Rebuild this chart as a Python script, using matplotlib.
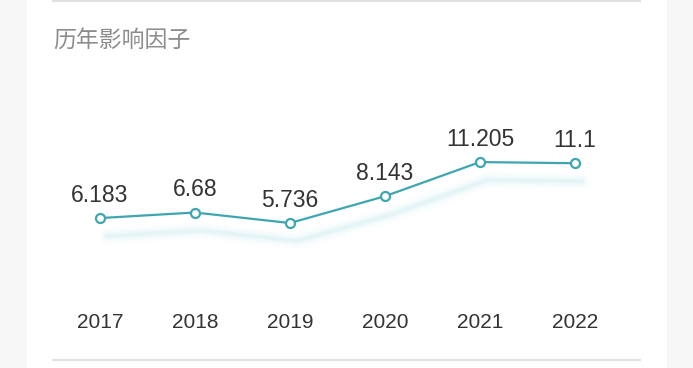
import matplotlib
matplotlib.use("Agg")
import matplotlib.pyplot as plt
import matplotlib.transforms as mtransforms
from matplotlib.patches import Rectangle
from matplotlib.lines import Line2D

plt.rcParams['font.family'] = ['Liberation Sans', 'Noto Sans CJK SC', 'DejaVu Sans']

# data
years = ["2017", "2018", "2019", "2020", "2021", "2022"]
impact = [6.183, 6.68, 5.736, 8.143, 11.205, 11.1]
labels = ["6.183", "6.68", "5.736", "8.143", "11.205", "11.1"]
title = "历年影响因子"

line_color = "#3fa6b0"
W, H = 693, 368

fig = plt.figure(figsize=(W / 100, H / 100), dpi=100)
fig.patch.set_facecolor("#f7f7f7")

# white card + separator lines (behind the axes)
fig.patches.append(Rectangle((27 / W, 0), 640 / W, 1, transform=fig.transFigure,
                             facecolor="white", edgecolor="none", zorder=-2))
fig.lines.append(Line2D([53 / W, 640 / W], [1 - 1 / H, 1 - 1 / H], transform=fig.transFigure,
                        color="#e2e2e2", lw=1.5, zorder=-1))
fig.lines.append(Line2D([53 / W, 640 / W], [1 - 360 / H, 1 - 360 / H], transform=fig.transFigure,
                        color="#e2e2e2", lw=1.5, zorder=-1))

fig.text(53 / W, 1 - 41 / H, title, fontsize=16.5, color="#8c8c8c", fontweight="light",
         family=['Noto Sans CJK SC', 'DejaVu Sans'], va="center", ha="left")

ax = fig.add_axes([0, 0, 1, 1])
ax.set_facecolor("none")
ax.set_xlim(-100 / 95, (W - 100) / 95)
ax.set_ylim(-81 / 11.15, (H - 81) / 11.15)
ax.axis("off")

x = list(range(len(years)))

# soft shadow below the line
for lw, a in [(12, 0.03), (8, 0.05), (5, 0.08), (2.5, 0.12)]:
    shadow = mtransforms.offset_copy(ax.transData, fig=fig, x=7, y=-18, units="dots")
    ax.plot(x, impact, color="#9fdbe4", lw=lw, alpha=a, transform=shadow,
            solid_capstyle="round", zorder=1)

ax.plot(x, impact, color=line_color, lw=1.6, marker="o", markersize=6.5,
        markerfacecolor="white", markeredgecolor=line_color, markeredgewidth=1.6, zorder=3)

for xi, v, lab in zip(x, impact, labels):
    ax.annotate(lab, (xi, v), xytext=(0, 8), textcoords="offset points",
                ha="center", va="bottom", fontsize=16.5, color="#333333")

yr_trans = mtransforms.blended_transform_factory(ax.transData, fig.transFigure)
for xi, yr in zip(x, years):
    ax.text(xi, 1 - 322 / H, yr, transform=yr_trans, ha="center", va="center",
            fontsize=15, color="#333333")

fig.savefig("out.png", dpi=100)
